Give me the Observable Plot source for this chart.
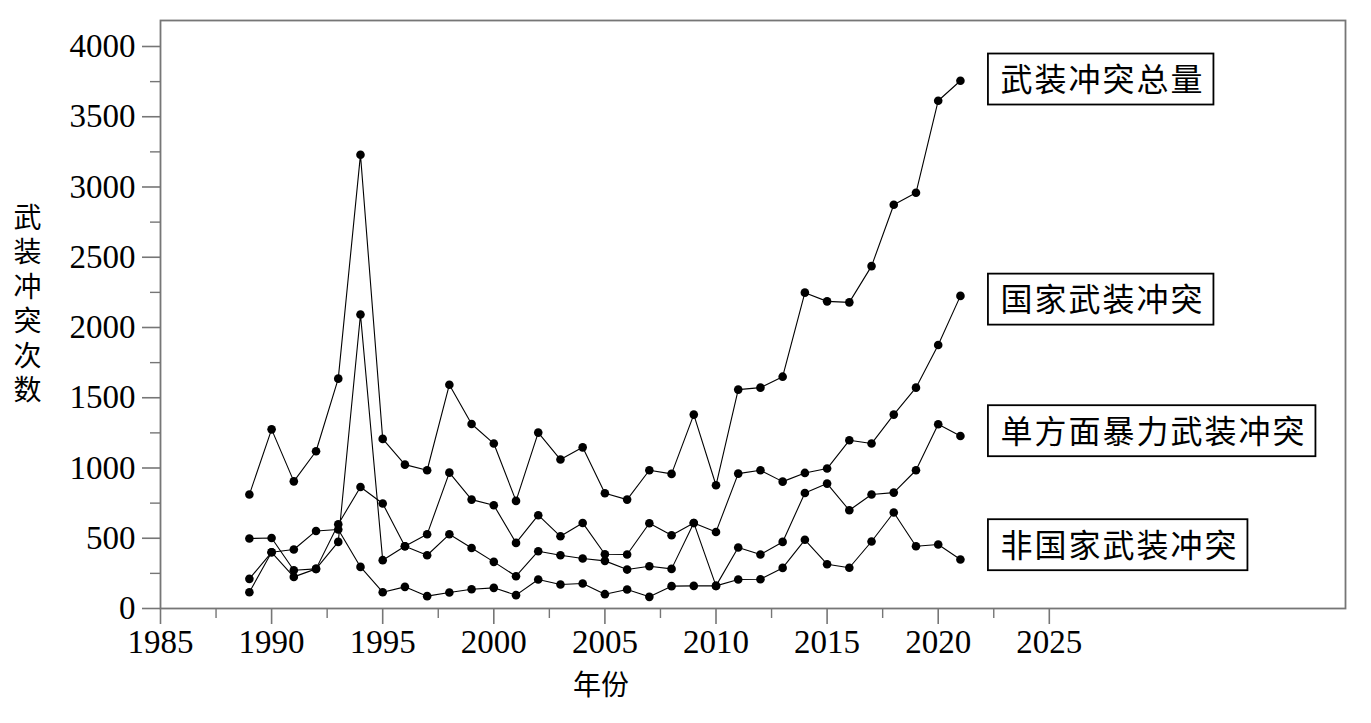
<!DOCTYPE html>
<html>
<head>
<meta charset="utf-8">
<script src="https://cdn.jsdelivr.net/npm/d3@7"></script>
<script src="https://cdn.jsdelivr.net/npm/@observablehq/plot@0.6"></script>
<style>
  html, body { margin: 0; padding: 0; background: #fff; }
  #chart { width: 1371px; height: 723px; }
</style>
</head>
<body>
<div id="chart"></div>
<script>
// ---- data ----
const years = [1989, 1990, 1991, 1992, 1993, 1994, 1995, 1996, 1997, 1998, 1999,
  2000, 2001, 2002, 2003, 2004, 2005, 2006, 2007, 2008, 2009, 2010,
  2011, 2012, 2013, 2014, 2015, 2016, 2017, 2018, 2019, 2020, 2021];

const totalConflicts = [811, 1275, 905, 1119, 1636, 3230, 1207, 1024, 984, 1593, 1313,
  1174, 766, 1252, 1060, 1147, 820, 775, 984, 958, 1380, 877,
  1558, 1572, 1650, 2248, 2186, 2179, 2437, 2874, 2959, 3614, 3756];

const stateBased = [498, 502, 272, 282, 600, 865, 747, 443, 528, 967, 775,
  735, 467, 664, 514, 609, 386, 384, 607, 521, 609, 545,
  960, 984, 903, 965, 996, 1197, 1174, 1380, 1572, 1875, 2225];

const oneSided = [116, 400, 225, 282, 474, 2093, 344, 443, 379, 528, 431,
  332, 230, 408, 379, 356, 339, 277, 301, 282, 609, 161,
  434, 384, 474, 822, 889, 699, 811, 825, 984, 1311, 1228];

const nonState = [211, 400, 420, 552, 562, 296, 116, 154, 88, 114, 137,
  147, 95, 206, 171, 178, 102, 135, 83, 159, 161, 161,
  206, 208, 289, 489, 315, 290, 477, 683, 443, 455, 349];

const seriesNames = ["武装冲突总量", "国家武装冲突", "单方面暴力武装冲突", "非国家武装冲突"];

const xTicks = [1985, 1990, 1995, 2000, 2005, 2010, 2015, 2020, 2025];
const xMinorTicks = [1987.5, 1992.5, 1997.5, 2002.5, 2007.5, 2012.5, 2017.5, 2022.5];
const yTicks = [0, 500, 1000, 1500, 2000, 2500, 3000, 3500, 4000];
const yMinorTicks = [250, 750, 1250, 1750, 2250, 2750, 3250, 3750];

const yTitle = "武装冲突次数";
const xTitle = "年份";

// ---- build tidy table ----
const seriesValues = [totalConflicts, stateBased, oneSided, nonState];
const rows = [];
seriesValues.forEach((vals, si) => {
  vals.forEach((v, i) => rows.push({series: seriesNames[si], year: years[i], value: v}));
});
const lastRows = seriesValues.map((vals, si) => ({
  series: seriesNames[si], year: years[years.length - 1], value: vals[vals.length - 1]
}));
// small vertical nudges (px) so the boxed labels sit as in the reference
const labelNudge = [0, 5, -3.5, -13];

const axisColor = "#767676";
const serif = "'Liberation Serif', 'Times New Roman', serif";
const cjk = "'Noto Sans CJK SC', sans-serif";

const chart = Plot.plot({
  width: 1371,
  height: 723,
  marginLeft: 160,
  marginRight: 26,
  marginTop: 20,
  marginBottom: 115,
  style: {fontFamily: serif, fontSize: "33px", color: "black", background: "white"},
  x: {domain: [1985, 2038.33], axis: null},
  y: {domain: [0, 4185], axis: null},
  marks: [
    Plot.frame({stroke: axisColor, strokeWidth: 1.8}),
    Plot.axisY(yTicks, {tickSize: 18, tickPadding: 7, stroke: axisColor, strokeWidth: 1.6, fill: "black",
      label: null, tickFormat: d => String(d), fontSize: 33}),
    Plot.axisY(yMinorTicks, {tickSize: 10, stroke: axisColor, strokeWidth: 1.4, fill: "none", label: null}),
    Plot.axisX(xTicks, {tickSize: 16, tickPadding: 5, stroke: axisColor, strokeWidth: 1.6, fill: "black",
      label: null, tickFormat: d => String(d), fontSize: 33}),
    Plot.axisX(xMinorTicks, {tickSize: 10, stroke: axisColor, strokeWidth: 1.4, fill: "none", label: null}),
    Plot.line(rows, {x: "year", y: "value", z: "series", stroke: "black", strokeWidth: 1.1}),
    Plot.dot(rows, {x: "year", y: "value", r: 4.3, fill: "black", stroke: "none"}),
    ...lastRows.map((d, i) => Plot.text([d], {
      x: "year", y: "value", text: "series", textAnchor: "start", dx: 40, dy: labelNudge[i],
      fontFamily: cjk, fontSize: 32, fill: "black"
    })),
    Plot.text([yTitle], {
      frameAnchor: "left", text: d => d, dx: -133, dy: -17, textAnchor: "middle",
      fontFamily: cjk, fontSize: 28, fill: "black"
    }),
    Plot.text([xTitle], {
      frameAnchor: "bottom", text: d => d, dx: -152, dy: 86, textAnchor: "middle",
      fontFamily: cjk, fontSize: 28, fill: "black"
    })
  ]
});

document.getElementById("chart").appendChild(chart);

const ns = "http://www.w3.org/2000/svg";
chart.querySelectorAll("text").forEach(t => {
  const s = t.textContent;
  if (seriesNames.includes(s)) {
    // boxed end-of-line labels
    t.style.letterSpacing = "2px";
    const b = t.getBBox();
    const cy = b.y + b.height / 2 + 2;
    const rect = document.createElementNS(ns, "rect");
    rect.setAttribute("x", b.x - 12.5);
    rect.setAttribute("y", cy - 25.5);
    rect.setAttribute("width", b.width + 21.5);
    rect.setAttribute("height", 51);
    rect.setAttribute("fill", "white");
    rect.setAttribute("stroke", "black");
    rect.setAttribute("stroke-width", 1.8);
    const tr = t.getAttribute("transform");
    if (tr) rect.setAttribute("transform", tr);
    t.parentNode.insertBefore(rect, t);
  } else if (s === yTitle) {
    // vertical, upright stacked title
    t.removeAttribute("dy");
    t.style.writingMode = "vertical-rl";
    t.style.textOrientation = "upright";
    t.style.letterSpacing = "6.5px";
    t.setAttribute("dominant-baseline", "central");
  }
});
</script>
</body>
</html>
